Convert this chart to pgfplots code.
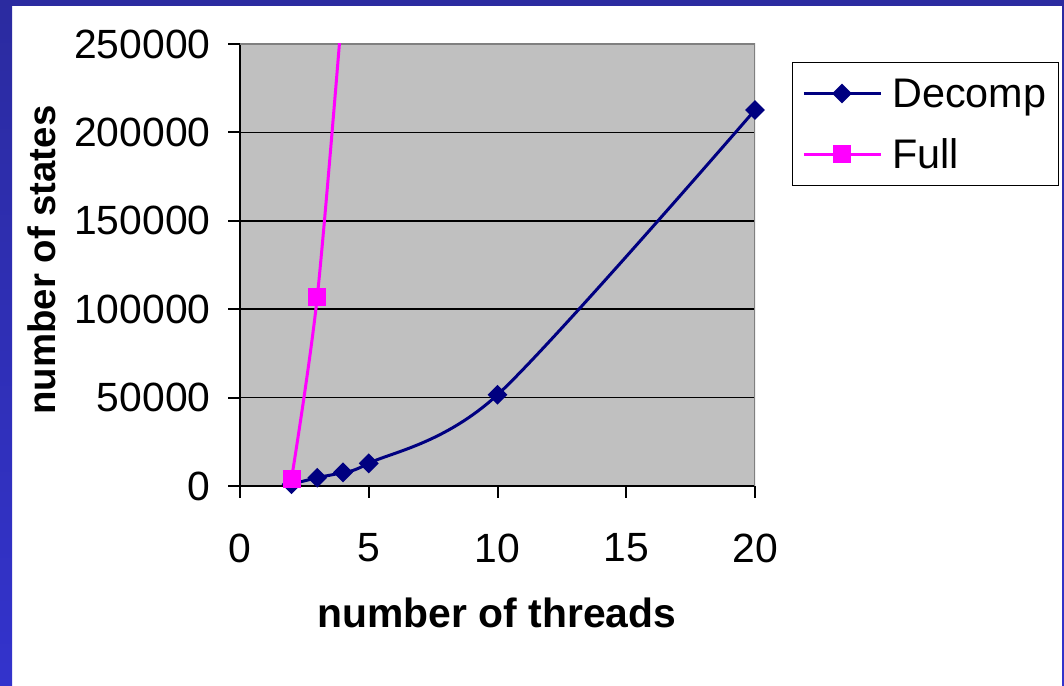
\documentclass[border=0pt]{standalone}
\usepackage{pgfplots}
\pgfplotsset{compat=1.18}
\usepackage{fontspec}
\setmainfont{Liberation Sans}
\definecolor{bgray}{HTML}{C0C0C0}
\definecolor{navyc}{HTML}{000080}
\definecolor{magc}{HTML}{FF00FF}
\definecolor{frameA}{HTML}{2B2BA0}
\definecolor{frameB}{HTML}{3333CC}
\definecolor{boxgray}{HTML}{808080}
\begin{document}
\begin{tikzpicture}[x=1bp,y=1bp]
\useasboundingbox (0,0) rectangle (1064,686);
\fill[white] (0,0) rectangle (1064,686);
\shade[bottom color=frameB, top color=frameA] (0,0) rectangle (12,686);
\fill[frameA] (0,680) rectangle (1064,686);
\shade[bottom color=frameB, top color=frameA] (1062,0) rectangle (1064,686);
\begin{axis}[
  at={(240bp,200bp)}, anchor=south west,
  scale only axis, width=515bp, height=442bp,
  xmin=0, xmax=20, ymin=0, ymax=250000,
  xtick={0,5,10,15,20},
  ytick={0,50000,100000,150000,200000,250000},
  scaled y ticks=false,
  /pgf/number format/assume math mode=true,
  yticklabel style={/pgf/number format/1000 sep={}, /pgf/number format/fixed, xshift=-14bp},
  xticklabel style={yshift=-32bp},
  tick label style={font=\fontsize{41}{46}\selectfont},
  axis x line*=bottom, axis y line*=left,
  axis line style={black, line width=2bp, -},
  tick align=outside, major tick length=12bp,
  tick style={black, line width=2bp},
  ymajorgrids, grid style={black, line width=1.5bp},
  axis background/.style={fill=bgray},
  xlabel={number of threads},
  ylabel={number of states},
  xlabel style={at={(axis description cs:0.499,-0.287)}, anchor=center, font=\bfseries\fontsize{41}{46}\selectfont},
  ylabel style={at={(axis description cs:-0.3845,0.511)}, anchor=center, font=\bfseries\fontsize{38.5}{44}\selectfont},
  legend style={at={(axis description cs:1.0718,0.959)}, anchor=north west, draw=black, line width=1bp, fill=white,
    font=\fontsize{41.5}{47}\selectfont, row sep=26bp, column sep=8bp, inner xsep=10bp, inner ysep=14bp},
  legend cell align=left,
  legend image code/.code={\draw[#1,mark indices={2}] plot coordinates {(0bp,0bp) (38bp,0bp) (77bp,0bp)};},
]
\draw[boxgray, line width=3bp] (rel axis cs:0,1) -- (rel axis cs:1,1) -- (rel axis cs:1,0);
\addplot[navyc, line width=3bp, smooth, mark=square*, mark size=5.5bp, mark options={rotate=45, solid}]
  coordinates {(2,1000) (3,4700) (4,7700) (5,12800) (10,51600) (20,212700)};
\addlegendentry{Decomp}
\addplot[magc, line width=3bp, smooth, mark=square*, mark size=7.5bp, mark indices={1,2}, mark options={solid}]
  coordinates {(2,3960) (3,106900) (4,275000)};
\addlegendentry{Full}
\end{axis}
\end{tikzpicture}
\end{document}
